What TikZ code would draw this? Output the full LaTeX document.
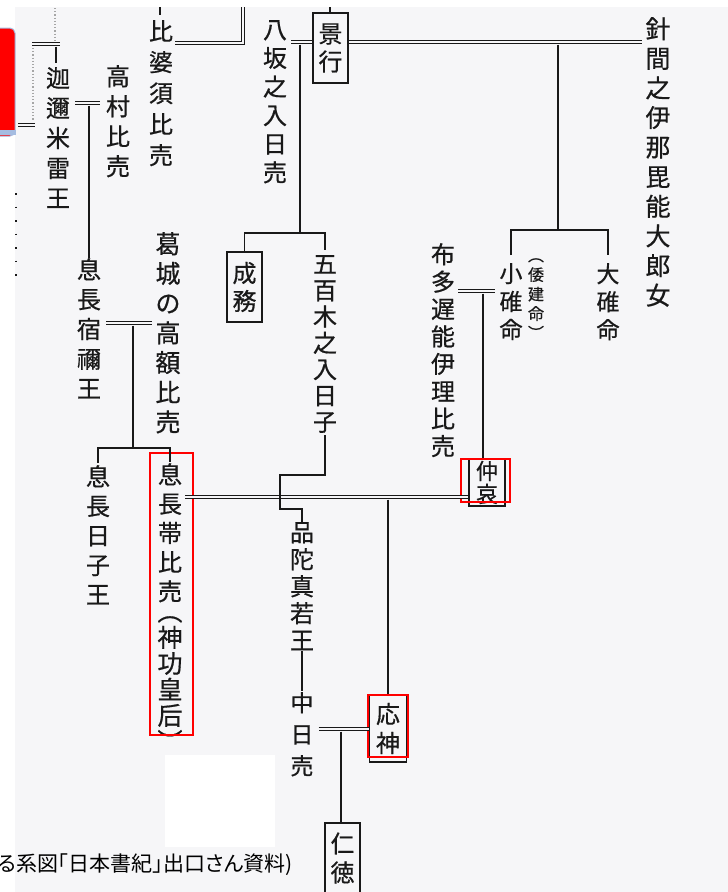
\documentclass[tikz,border=0pt]{standalone}
\usepackage{fontspec}
\newfontfamily\jp[FakeBold=0.6]{Noto Sans CJK JP}
\newfontfamily\jpcap[RawFeature=+palt]{Noto Sans CJK JP}
\definecolor{ink}{RGB}{25,25,25}
\definecolor{paper}{RGB}{246,246,248}
\definecolor{slideblue}{RGB}{165,188,225}
\newcommand\vf[2]{\jp\fontsize{#1}{#2}\selectfont}
\tikzset{
 ln/.style={draw=ink, line width=1.6pt},
 dbl/.style={draw=ink, line width=1.5pt, double=paper, double distance=1.5pt},
 vt/.style={inner sep=0pt, align=center, anchor=north, text=ink},
 bx/.style={draw=ink, line width=1.7pt, inner sep=0pt, align=center, text=ink, minimum width=35pt},
 redbox/.style={draw=red, line width=1.1pt},
 faint/.style={draw=gray!70, line width=1.1pt, dash pattern=on 1.2pt off 2pt},
}
\begin{document}
\begin{tikzpicture}[x=1pt,y=-1pt]
\useasboundingbox (0,0) rectangle (728,892);
\clip (0,0) rectangle (728,892);
\fill[white] (0,0) rectangle (728,892);
\fill[paper] (15,7) rectangle (728,892);
\fill[white] (165,755) rectangle (275,847);
% slide tab
\filldraw[fill=red, draw=slideblue, line width=1pt, rounded corners=5pt] (-10,28) rectangle (15,136);
\fill[slideblue] (0,130) rectangle (16,135);

% ---------- nodes ----------
\node[vt, font=\vf{24}{30}] (kani) at (58,67) {迦\\邇\\米\\雷\\王};
\node[vt, font=\vf{24}{30}] (takamura) at (118,65) {高\\村\\比\\売};
\node[vt, font=\vf{24}{31}] (hibasu) at (161,20) {比\\婆\\須\\比\\売};
\node[vt, font=\vf{24}{28.6}] (yasaka) at (275,20) {八\\坂\\之\\入\\日\\売};
\node[bx, minimum height=70pt, font=\vf{24}{28}] (keiko) at (330.5,48) {景\\行};
\node[vt, font=\vf{25}{29.6}] (harima) at (658,17) {針\\間\\之\\伊\\那\\毘\\能\\大\\郎\\女};
\node[vt, font=\vf{23}{28}] (kousu) at (511,263) {小\\碓\\命};
\node[vt, font=\vf{16}{19.5}] (yamato) at (536,258) {︵\\倭\\建\\命\\︶};
\node[vt, font=\vf{23}{28}] (oousu) at (608,263) {大\\碓\\命};
\node[vt, font=\vf{24}{27.4}] (futaji) at (443,243) {布\\多\\遅\\能\\伊\\理\\比\\売};
\node[vt, font=\vf{25}{29.7}] (katsuragi) at (168,232) {葛\\城\\の\\高\\額\\比\\売};
\node[vt, font=\vf{24}{29.75}] (sukune) at (89,258) {息\\長\\宿\\禰\\王};
\node[bx, minimum height=70pt, font=\vf{24}{28}] (seimu) at (244.5,287) {成\\務};
\node[vt, font=\vf{24}{26.3}] (ioki) at (325,255) {五\\百\\木\\之\\入\\日\\子};
\node[vt, font=\vf{24}{29.5}] (hiko) at (98,465) {息\\長\\日\\子\\王};
\node[vt, font=\vf{24}{29.2}] (tarashi) at (170,463) {息\\長\\帯\\比\\売};
\node[vt, font=\vf{25}{26}] (jingu) at (170,616) {︵\\神\\功\\皇\\后\\︶};
\node[bx, minimum width=36pt, minimum height=47pt, font=\vf{22}{23}] (chuai) at (487,482.5) {仲\\哀};
\node[vt, font=\vf{24}{27}] (honda) at (302,522) {品\\陀\\真\\若\\王};
\node[vt, font=\vf{23}{31.5}] (naka) at (302,692) {中\\日\\売};
\node[bx, minimum width=37pt, minimum height=67pt, font=\vf{24}{29}] (ojin) at (388,728.5) {応\\神};
\node[bx, minimum height=70pt, font=\vf{24}{29}] (nintoku) at (342.5,858) {仁\\徳};
\node[anchor=west, inner sep=0pt, font=\jpcap\fontsize{21}{24}\selectfont, text=black] (cap) at (-3,865) {る系図「日本書紀」出口さん資料)};

% red highlight frames
\draw[redbox] (150,453) rectangle (193,735);
\draw[redbox] (461,459) rectangle (510,502);
\draw[redbox] (368,695) rectangle (408,757);

% ---------- connectors ----------
% top-left remnants
\coordinate (a1) at (55,8); \coordinate (a2) at (55,42);
\draw[faint] (a1) -- (a2);
\coordinate (a3) at (32,44); \coordinate (a4) at (60,44);
\draw[dbl] (a3) -- (a4);
\coordinate (a5) at (33,48); \coordinate (a6) at (33,120);
\draw[faint] (a5) -- (a6);
\coordinate (a7) at (56,46.5);
\draw[ln, shorten >=4pt] (a7) -- (a7 |- kani.north);
\coordinate (e1) at (18,125); \coordinate (e2) at (35,125);
\draw[dbl, line width=1.1pt, double distance=1.4pt] (e1) -- (e2);
\coordinate (m1) at (16,193); \coordinate (m2) at (16,278);
\draw[ink, line width=1.6pt, dash pattern=on 1.5pt off 12pt] (m1) -- (m2);

% kani = takamura -> sukune
\coordinate (k1) at (89,103); \coordinate (k2) at (89,105.5);
\draw[dbl] ([xshift=5pt]kani.east |- k1) -- ([xshift=-6pt]takamura.west |- k1);
\draw[ln] (k2) -- (sukune.north);

% hibasu
\coordinate (h0) at (160,7);
\draw[ln, shorten >=5pt] (h0) -- (h0 |- hibasu.north);
\coordinate (h1) at (243,43); \coordinate (h2) at (243,7);
\draw[dbl] ([xshift=2pt]hibasu.east |- h1) -- (h1) -- (h2);

% yasaka = keiko = harima
\coordinate (y1) at (300,42);
\draw[dbl] ([xshift=4pt]yasaka.east |- y1) -- (keiko.west |- y1);
\coordinate (kt) at (330,7);
\draw[ln] (kt) -- (kt |- keiko.north);
\draw[dbl] (keiko.east |- y1) -- ([xshift=-3pt]harima.west |- y1);

% keiko = harima children
\coordinate (v1) at (558,44.5); \coordinate (v2) at (558,230);
\draw[ln] (v1) -- (v2);
\draw[ln, shorten <=8pt, shorten >=8pt] (kousu.north) -- (kousu.north |- v2) -- (oousu.north |- v2) -- (oousu.north);

% yasaka = keiko children
\coordinate (s1) at (300,44.5); \coordinate (s2) at (300,233);
\draw[ln] (s1) -- (s2);
\draw[ln, shorten >=5pt] (seimu.north) -- (seimu.north |- s2) -- (ioki.north |- s2) -- (ioki.north);

% sukune = katsuragi children
\coordinate (g1) at (133,323); \coordinate (g2) at (133,325.5); \coordinate (g3) at (133,448);
\draw[dbl] ([xshift=5pt]sukune.east |- g1) -- ([xshift=-3pt]katsuragi.west |- g1);
\draw[ln] (g2) -- (g3);
\draw[ln, shorten <=2pt, shorten >=1pt] (hiko.north) -- (hiko.north |- g3) -- (tarashi.north |- g3) -- (tarashi.north);

% futaji = kousu -> chuai
\coordinate (f1) at (483,291); \coordinate (f2) at (483,293.5);
\draw[dbl] ([xshift=3pt]futaji.east |- f1) -- ([xshift=-4pt]kousu.west |- f1);
\draw[ln] (f2) -- (f2 |- chuai.north);

% tarashi = chuai -> ojin
\coordinate (b1) at (388,497); \coordinate (b2) at (388,499.5);
\draw[dbl] ([xshift=3pt]tarashi.east |- b1) -- (chuai.west |- b1);
\draw[ln] (b2) -- (ojin.north);

% ioki -> honda (crossing the marriage line)
\coordinate (p2) at (280,475); \coordinate (p3) at (280,509);
\draw[ln, shorten <=2pt] (ioki.south) -- (ioki.south |- p2) -- (p2) -- (p3) -- (honda.north |- p3) -- (honda.north);

% honda -> naka
\draw[ln, shorten <=1pt, shorten >=1pt] (honda.south) -- (naka.north);

% naka = ojin -> nintoku
\coordinate (n1) at (341,729); \coordinate (n2) at (341,731.5);
\draw[dbl] ([xshift=5pt]naka.east |- n1) -- (ojin.west |- n1);
\draw[ln] (n2) -- (n2 |- nintoku.north);
\end{tikzpicture}
\end{document}
